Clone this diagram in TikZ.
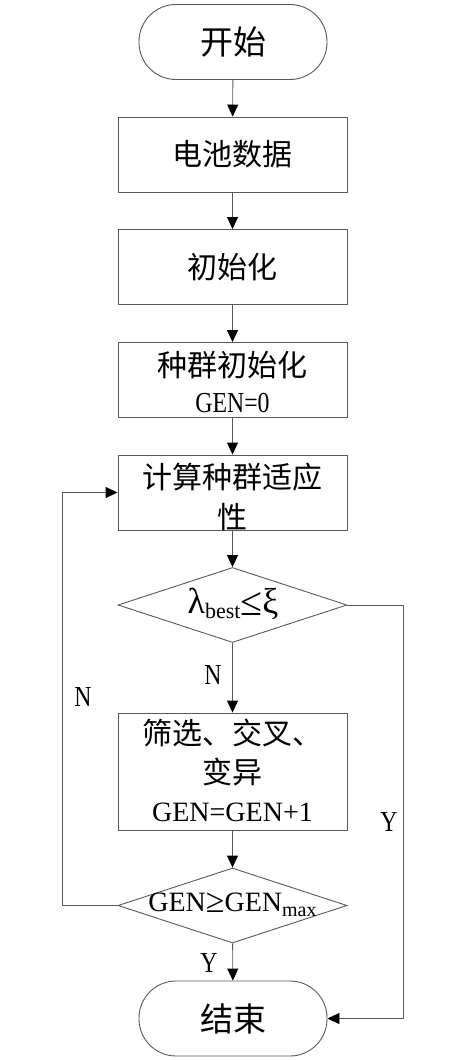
\documentclass[tikz,border=0pt]{standalone}
\usepackage{fontspec}
\setmainfont{Liberation Serif}
\newfontfamily\cjk{Noto Sans CJK SC}
\usetikzlibrary{shapes.geometric,arrows.meta}
\begin{document}
\begin{tikzpicture}[x=1pt,y=-1pt,
  ln/.style={draw=black!65, line width=0.9pt},
  arr/.style={ln, -{Triangle[length=12pt,width=11pt,color=black]}},
  box/.style={draw=black!65, line width=0.9pt, minimum width=229pt, minimum height=75pt, inner sep=0pt},
  term/.style={draw=black!65, line width=0.9pt, rounded corners=37pt, minimum width=188pt, minimum height=75pt, inner sep=0pt},
  dia/.style={draw=black!65, line width=0.9pt, diamond, minimum width=229pt, minimum height=75pt, inner sep=0pt},
  zh/.style={font=\cjk\fontsize{30}{34}\selectfont, inner sep=0pt},
  lat/.style={font=\fontsize{28}{32}\selectfont, inner sep=0pt},
  cond/.style={font=\fontsize{29}{32}\selectfont, inner sep=0pt, xscale=0.82},
]
\useasboundingbox (0,0) rectangle (464,1060);
\node[term] (start) at (233,42) {};
\node[zh, font=\cjk\fontsize{33}{36}\selectfont] (tstart) at (start) {开始};
\node[box] (b1) at (232.5,154.5) {};
\node[zh] (t1) at (b1) {电池数据};
\node[box] (b2) at (232.5,267) {};
\node[zh] (t2) at (b2) {初始化};
\node[box] (b3) at (232.5,380) {};
\node[zh] (t3a) at (232.5,365) {种群初始化};
\node[cond] (t3b) at (232.5,403) {GEN=0};
\node[box] (b4) at (232.5,492.5) {};
\node[zh] (t4a) at (232.5,477) {计算种群适应};
\node[zh] (t4b) at (232.5,517) {性};
\node[dia] (d1) at (232.5,605) {};
\node[lat, font=\fontsize{36}{40}\selectfont] (td1) at (233,604) {λ\raisebox{-0.15em}{\fontsize{22}{24}\selectfont best}\raisebox{-0.05em}{\fontsize{40}{40}\selectfont ≤}ξ};
\node[box, minimum height=117pt] (b5) at (232.5,771.5) {};
\node[zh] (t5a) at (232.5,733) {筛选、交叉、};
\node[zh] (t5b) at (232.5,772) {变异};
\node[lat] (t5c) at (232.5,812) {GEN=GEN+1};
\node[dia] (d2) at (232.5,905.5) {};
\node[lat] (td2) at (232.5,905) {GEN\raisebox{-0.05em}{\fontsize{34}{34}\selectfont ≥}GEN\raisebox{-0.2em}{\fontsize{20}{22}\selectfont max}};
\node[term] (end) at (233,1018.5) {};
\node[zh, font=\cjk\fontsize{33}{36}\selectfont] (tend) at (end) {结束};
\coordinate (r1) at (403,605);
\coordinate (r2) at (403,1018.5);
\coordinate (l1) at (62,905.5);
\coordinate (l2) at (62,492.5);
\draw[arr] (start) -- (b1);
\draw[arr] (b1) -- (b2);
\draw[arr] (b2) -- (b3);
\draw[arr] (b3) -- (b4);
\draw[arr] (b4) -- (d1);
\draw[arr] (d1) -- (b5);
\draw[arr] (b5) -- (d2);
\draw[arr] (d2) -- (end);
\draw[arr] (d1.east) -- (r1) -- (r2) -- (end.east);
\draw[arr] (d2.west) -- (l1) -- (l2) -- (b4.west);
\node[cond] (ln1) at (213,675) {N};
\node[cond] (ln2) at (83,697) {N};
\node[cond] (ly1) at (389,822) {Y};
\node[cond] (ly2) at (209,963) {Y};
\end{tikzpicture}
\end{document}
